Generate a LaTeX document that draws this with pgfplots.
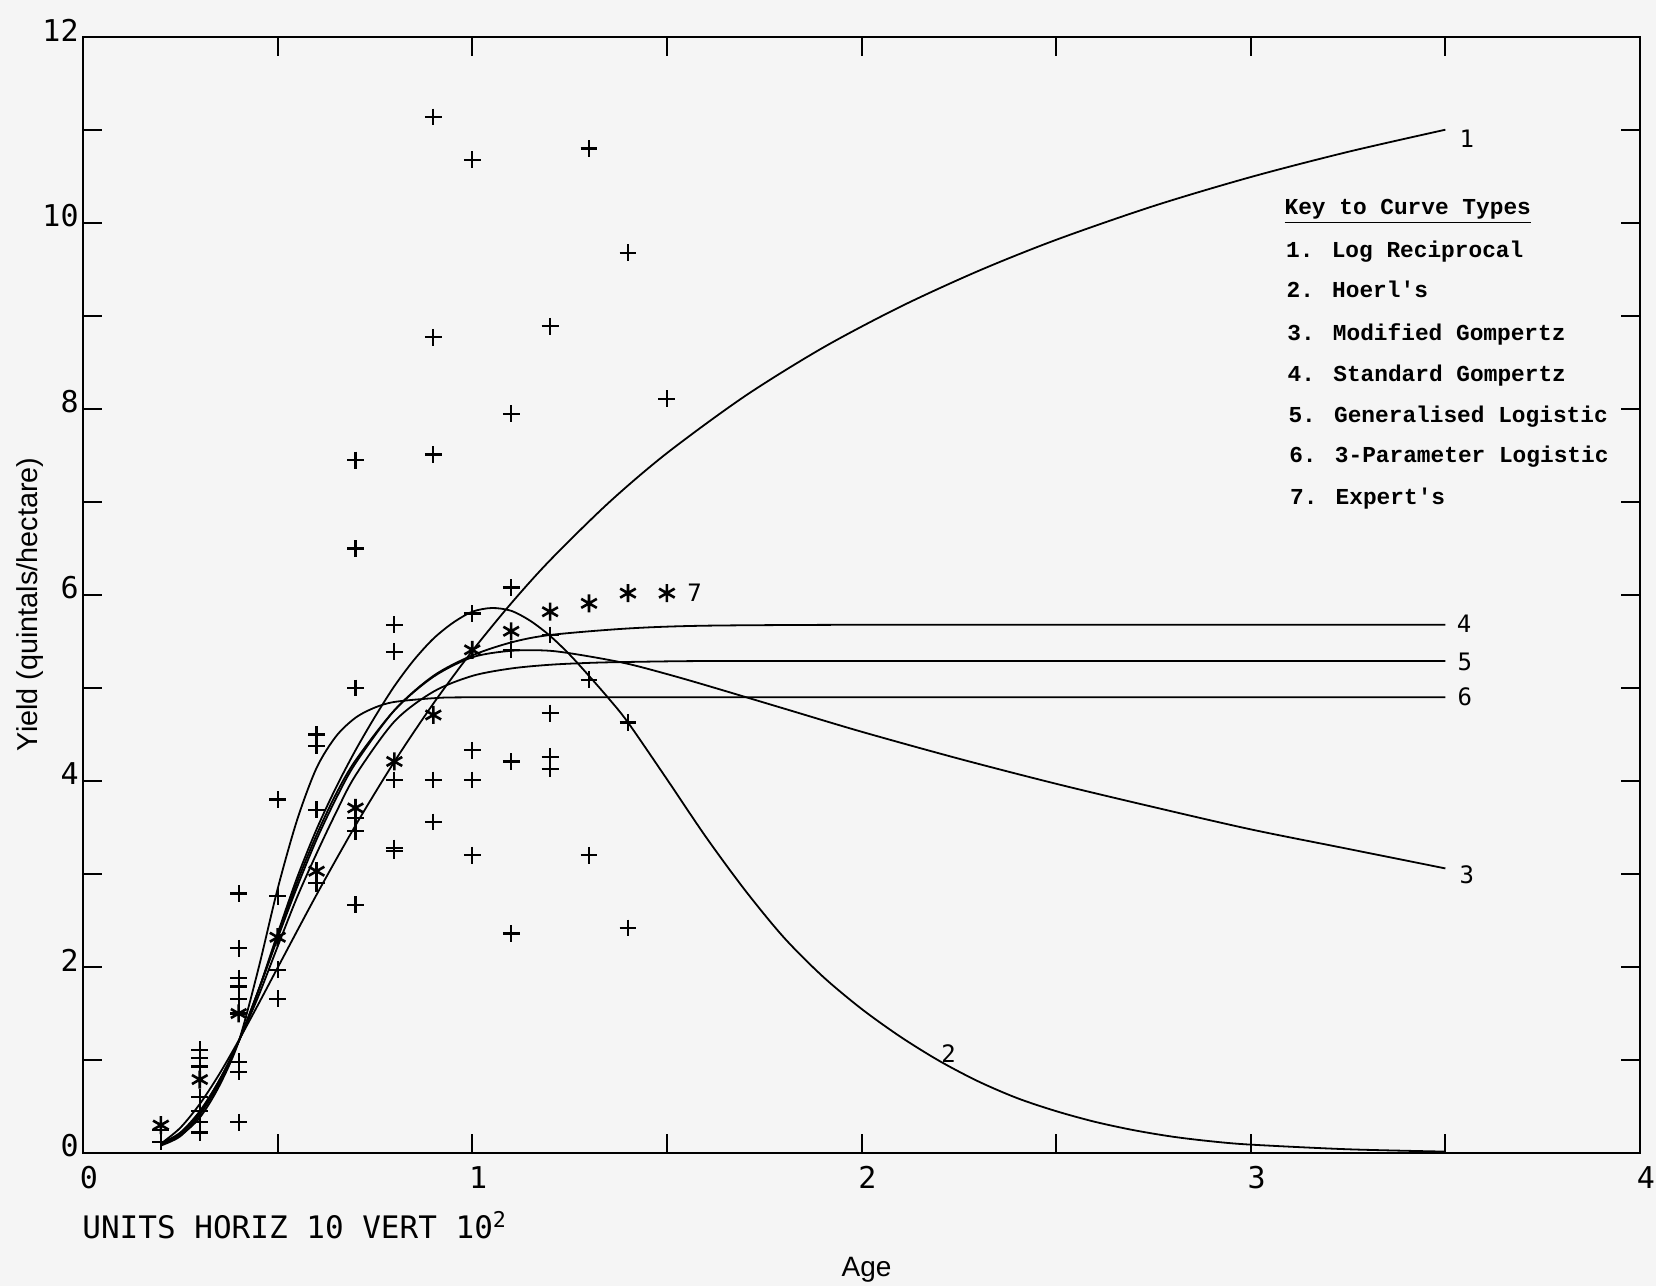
\documentclass[border=0pt]{standalone}
\usepackage{pgfplots}
\pgfplotsset{compat=1.18}
\usetikzlibrary{plotmarks}
\usepackage{fontspec}
\setmainfont{Liberation Sans}
\newfontfamily\plotfont{DejaVu Sans Mono}
\newfontfamily\keyfont{Liberation Mono}
\begin{document}
\begin{tikzpicture}
\path[use as bounding box, fill=black!4] (-41.5pt,-66.5pt) rectangle (786.5pt,576.5pt);
\begin{axis}[
  at={(0pt,0pt)}, anchor=south west,
  scale only axis, width=778.5pt, height=558pt,
  xmin=0, xmax=4, ymin=0, ymax=12,
  xtick={0,1,2,3,4}, xticklabels={0,1,2,3,4},
  minor xtick={0.5,1.5,2.5,3.5},
  ytick={0,2,4,6,8,10,12}, yticklabels={0,2,4,6,8,10,12},
  minor ytick={1,3,5,7,9,11},
  tick align=inside, xtick pos=both, ytick pos=both,
  major tick length=9.5pt, minor tick length=9.5pt,
  tick style={black, line width=1pt},
  axis line style={line width=1.1pt},
  xticklabel style={font=\plotfont\fontsize{15}{15}\selectfont, anchor=north, inner sep=0pt, yshift=-6.5pt, xshift=3pt},
  yticklabel style={font=\plotfont\fontsize{15}{15}\selectfont, anchor=east, inner sep=0pt, xshift=-2pt, yshift=3.5pt},
  clip=false,
]
% 1. Log reciprocal
\addplot[black, line width=0.9pt, smooth, mark=none] coordinates {
(0.20,0.100)(0.25,0.271)(0.30,0.527)(0.35,0.847)(0.40,1.210)(0.45,1.596)(0.50,1.992)
(0.60,2.777)(0.70,3.521)(0.80,4.208)(0.90,4.832)(1.00,5.398)(1.10,5.910)(1.20,6.374)
(1.35,6.990)(1.50,7.525)(1.70,8.137)(1.90,8.657)(2.10,9.100)(2.30,9.484)(2.50,9.819)
(2.75,10.182)(3.00,10.494)(3.25,10.765)(3.50,11.003)};
% 2. Hoerl's
\addplot[black, line width=0.9pt, smooth, mark=none] coordinates {
(0.20,0.10)(0.25,0.22)(0.30,0.45)(0.35,0.78)(0.40,1.20)(0.45,1.74)(0.50,2.36)(0.55,2.96)
(0.60,3.48)(0.65,3.93)(0.70,4.33)(0.75,4.69)(0.80,5.02)(0.85,5.30)(0.90,5.53)(0.95,5.70)
(1.00,5.82)(1.05,5.86)(1.10,5.83)(1.15,5.72)(1.20,5.56)(1.25,5.36)(1.30,5.13)(1.35,4.89)
(1.40,4.63)(1.50,4.02)(1.60,3.40)(1.70,2.83)(1.80,2.32)(1.90,1.90)(2.00,1.55)(2.10,1.25)
(2.20,0.99)(2.30,0.77)(2.40,0.59)(2.50,0.45)(2.60,0.335)(2.70,0.245)(2.80,0.175)(2.90,0.125)
(3.00,0.09)(3.25,0.04)(3.50,0.015)};
% 3. Modified Gompertz
\addplot[black, line width=0.9pt, smooth, mark=none] coordinates {
(0.20,0.10)(0.25,0.21)(0.30,0.44)(0.35,0.78)(0.40,1.20)(0.45,1.74)(0.50,2.32)(0.55,2.91)
(0.60,3.42)(0.65,3.86)(0.70,4.22)(0.80,4.76)(0.90,5.12)(1.00,5.33)(1.10,5.40)
(1.20,5.40)(1.30,5.34)(1.40,5.26)(1.50,5.15)(1.60,5.03)(1.80,4.78)(2.00,4.53)(2.25,4.24)
(2.50,3.97)(2.75,3.72)(3.00,3.48)(3.25,3.27)(3.50,3.06)};
% 4. Standard Gompertz
\addplot[black, line width=0.9pt, smooth, mark=none] coordinates {
(0.20,0.08)(0.25,0.18)(0.30,0.41)(0.35,0.75)(0.40,1.20)(0.45,1.74)(0.50,2.31)(0.55,2.86)
(0.60,3.37)(0.65,3.81)(0.70,4.19)(0.80,4.76)(0.90,5.13)(1.00,5.35)(1.10,5.49)(1.20,5.57)
(1.40,5.64)(1.60,5.67)(2.00,5.68)(2.50,5.68)(3.00,5.68)(3.50,5.68)};
% 5. Generalised logistic
\addplot[black, line width=0.9pt, smooth, mark=none] coordinates {
(0.20,0.10)(0.25,0.21)(0.30,0.43)(0.35,0.76)(0.40,1.20)(0.45,1.68)(0.50,2.22)(0.55,2.75)
(0.60,3.22)(0.65,3.66)(0.70,4.06)(0.80,4.64)(0.90,4.96)(1.00,5.13)(1.10,5.21)
(1.20,5.25)(1.30,5.27)(1.40,5.28)(1.60,5.29)(2.00,5.29)(2.50,5.29)(3.00,5.29)(3.50,5.29)};
% 6. 3-parameter logistic
\addplot[black, line width=0.9pt, smooth, mark=none] coordinates {
(0.20,0.09)(0.25,0.19)(0.30,0.38)(0.35,0.72)(0.40,1.20)(0.45,1.97)(0.50,2.84)(0.55,3.58)
(0.60,4.14)(0.65,4.48)(0.70,4.68)(0.75,4.79)(0.80,4.85)(0.90,4.89)(1.00,4.90)(1.50,4.90)(2.00,4.90)
(2.50,4.90)(3.00,4.90)(3.50,4.90)};
% observed data
\addplot[black, only marks, mark=+, mark size=4.2pt, line width=1.1pt] coordinates {
(0.2,0.25)(0.2,0.12)
(0.3,1.11)(0.3,1.02)(0.3,0.93)(0.3,0.60)(0.3,0.45)(0.3,0.33)(0.3,0.22)
(0.4,2.79)(0.4,2.20)(0.4,1.88)(0.4,1.79)(0.4,1.66)(0.4,1.50)(0.4,0.98)(0.4,0.87)(0.4,0.33)
(0.5,3.80)(0.5,2.76)(0.5,1.97)(0.5,1.66)
(0.6,4.50)(0.6,4.38)(0.6,3.69)(0.6,2.90)
(0.7,7.45)(0.7,6.50)(0.7,5.00)(0.7,3.60)(0.7,3.46)(0.7,2.67)
(0.8,5.68)(0.8,5.39)(0.8,4.01)(0.8,3.28)(0.8,3.25)
(0.9,11.14)(0.9,8.77)(0.9,7.51)(0.9,4.01)(0.9,3.56)
(1.0,10.68)(1.0,5.80)(1.0,4.33)(1.0,4.01)(1.0,3.20)
(1.1,7.95)(1.1,6.08)(1.1,5.41)(1.1,4.21)(1.1,2.36)
(1.2,8.89)(1.2,5.57)(1.2,4.73)(1.2,4.26)(1.2,4.13)
(1.3,10.80)(1.3,5.09)(1.3,3.20)
(1.4,9.68)(1.4,4.63)(1.4,2.42)
(1.5,8.11)};
% 7. Expert's
\addplot[black, only marks, mark=asterisk, mark size=4.5pt, line width=1.3pt] coordinates {
(0.2,0.30)(0.3,0.79)(0.4,1.50)(0.5,2.32)(0.6,3.03)(0.7,3.71)(0.8,4.21)(0.9,4.71)
(1.0,5.41)(1.1,5.61)(1.2,5.82)(1.3,5.91)(1.4,6.02)(1.5,6.02)};
% curve labels
\begin{scope}[every node/.style={font=\plotfont\fontsize{12}{12}\selectfont, inner sep=0pt}]
\node at (axis cs:3.555,10.91) {1};
\node at (axis cs:2.224,1.07) {2};
\node at (axis cs:3.555,2.99) {3};
\node at (axis cs:3.548,5.69) {4};
\node at (axis cs:3.550,5.28) {5};
\node at (axis cs:3.550,4.91) {6};
\node at (axis cs:1.571,6.02) {7};
\end{scope}
% key
\begin{scope}[every node/.style={font=\keyfont\bfseries\fontsize{11.4}{11.4}\selectfont, inner sep=0pt, anchor=base west}]
\node at (axis cs:3.086,10.09) {\underline{Key to Curve Types}};
\node at (axis cs:3.090,9.63) {1. Log Reciprocal};
\node at (axis cs:3.091,9.20) {2. Hoerl's};
\node at (axis cs:3.093,8.74) {3. Modified Gompertz};
\node at (axis cs:3.094,8.30) {4. Standard Gompertz};
\node at (axis cs:3.096,7.85) {5. Generalised Logistic};
\node at (axis cs:3.098,7.43) {6. 3-Parameter Logistic};
\node at (axis cs:3.100,6.97) {7. Expert's};
\end{scope}
% axis texts
\node[rotate=90, font=\fontsize{14.4}{14.4}\selectfont, inner sep=0pt] at ([xshift=-26.5pt]axis cs:0,5.9) {Yield (quintals/hectare)};
\node[font=\fontsize{14}{14}\selectfont, inner sep=0pt] at ([yshift=-58.5pt]axis cs:2.013,0) {Age};
\node[anchor=base west, inner sep=0pt, font=\plotfont\fontsize{15.5}{15.5}\selectfont] at ([xshift=-0.5pt, yshift=-42.5pt]axis cs:0,0) {UNITS HORIZ 10 VERT 10\textsuperscript{2}};
\end{axis}
\end{tikzpicture}
\end{document}
